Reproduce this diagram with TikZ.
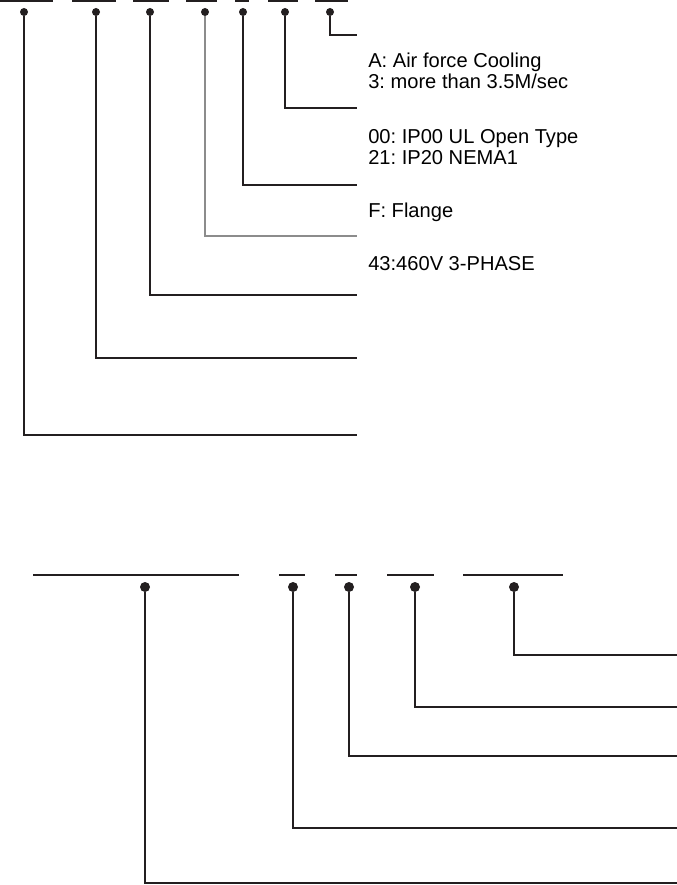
\documentclass[tikz,border=0pt]{standalone}
\usepackage{fontspec}
\setmainfont{Liberation Sans}
\frenchspacing
\usetikzlibrary{positioning}
\definecolor{cdpreto}{HTML}{231F20}
\definecolor{cdcinza}{HTML}{8C8C8C}
\tikzset{
  cdbarra/.style={draw=cdpreto, line width=1pt},
  cdbarragrossa/.style={draw=cdpreto, line width=1.5pt},
  cdponto/.style={circle, fill=cdpreto, inner sep=0pt, minimum size=2mm},
  cdpontogrande/.style={circle, fill=cdpreto, inner sep=0pt, minimum size=2.5mm},
  cdlinha/.style={draw=cdpreto, line width=0.75pt},
  cdlinhacinza/.style={draw=cdcinza, line width=0.75pt},
  cdlinhagrossa/.style={draw=cdpreto, line width=1.1pt},
  cdrotulo/.style={font=\fontsize{14.3}{15.6}\selectfont, align=left, inner sep=0pt, anchor=base west},
}

\begin{document}
\begin{tikzpicture}[x=0.25mm, y=-0.25mm]
    \useasboundingbox (0,0) rectangle (677,885);
    % codigo de cima
    \draw[cdbarra] (0,1) -- (53,1);
    \draw[cdbarra] (72,1) -- (116,1);
    \draw[cdbarra] (133,1) -- (169,1);
    \draw[cdbarra] (186,1) -- (217,1);
    \draw[cdbarra] (235,1) -- (249,1);
    \draw[cdbarra] (268,1) -- (298,1);
    \draw[cdbarra] (315,1) -- (348,1);
    \node[cdponto] (p1) at (24,12) {};
    \node[cdponto] (p2) at (96,12) {};
    \node[cdponto] (p3) at (150,12) {};
    \node[cdponto] (p4) at (205,12) {};
    \node[cdponto] (p5) at (243,12) {};
    \node[cdponto] (p6) at (285,12) {};
    \node[cdponto] (p7) at (330,12) {};
    % pontas das linhas
    \coordinate (f7) at (357,35);
    \coordinate (f6) at (357,108);
    \coordinate (f5) at (357,185);
    \coordinate (f4) at (357,236);
    \coordinate (f3) at (357,295);
    \coordinate (f2) at (357,358);
    \coordinate (f1) at (357,435);
    \draw[cdlinha] (p7) |- (f7);
    \draw[cdlinha] (p6) |- (f6);
    \draw[cdlinha] (p5) |- (f5);
    \draw[cdlinhacinza] (p4) |- (f4);
    \draw[cdlinha] (p3) |- (f3);
    \draw[cdlinha] (p2) |- (f2);
    \draw[cdlinha] (p1) |- (f1);
    % textos (base = ultima linha)
    \node[cdrotulo] (t7) at (368,89) {A: Air force Cooling\\3: more than 3.5M/sec};
    \node[cdrotulo] (t6) at (368,165) {00: IP00 UL Open Type\\21: IP20 NEMA1};
    \node[cdrotulo] (t5) at (368,217) {F: Flange};
    \node[cdrotulo] (t4) at (368,270) {43:460V 3-PHASE};
    % codigo de baixo
    \draw[cdbarragrossa] (33,575) -- (239,575);
    \draw[cdbarragrossa] (279,575) -- (305,575);
    \draw[cdbarragrossa] (335,575) -- (357,575);
    \draw[cdbarragrossa] (387,575) -- (434,575);
    \draw[cdbarragrossa] (463,575) -- (563,575);
    \node[cdpontogrande] (q1) at (145,587) {};
    \node[cdpontogrande] (q2) at (293,587) {};
    \node[cdpontogrande] (q3) at (349,587) {};
    \node[cdpontogrande] (q4) at (415,587) {};
    \node[cdpontogrande] (q5) at (514,587) {};
    \coordinate (g5) at (677,655);
    \coordinate (g4) at (677,707);
    \coordinate (g3) at (677,756);
    \coordinate (g2) at (677,828);
    \coordinate (g1) at (677,883);
    \draw[cdlinhagrossa] (q5) |- (g5);
    \draw[cdlinhagrossa] (q4) |- (g4);
    \draw[cdlinhagrossa] (q3) |- (g3);
    \draw[cdlinhagrossa] (q2) |- (g2);
    \draw[cdlinhagrossa] (q1) |- (g1);
\end{tikzpicture}
\end{document}
